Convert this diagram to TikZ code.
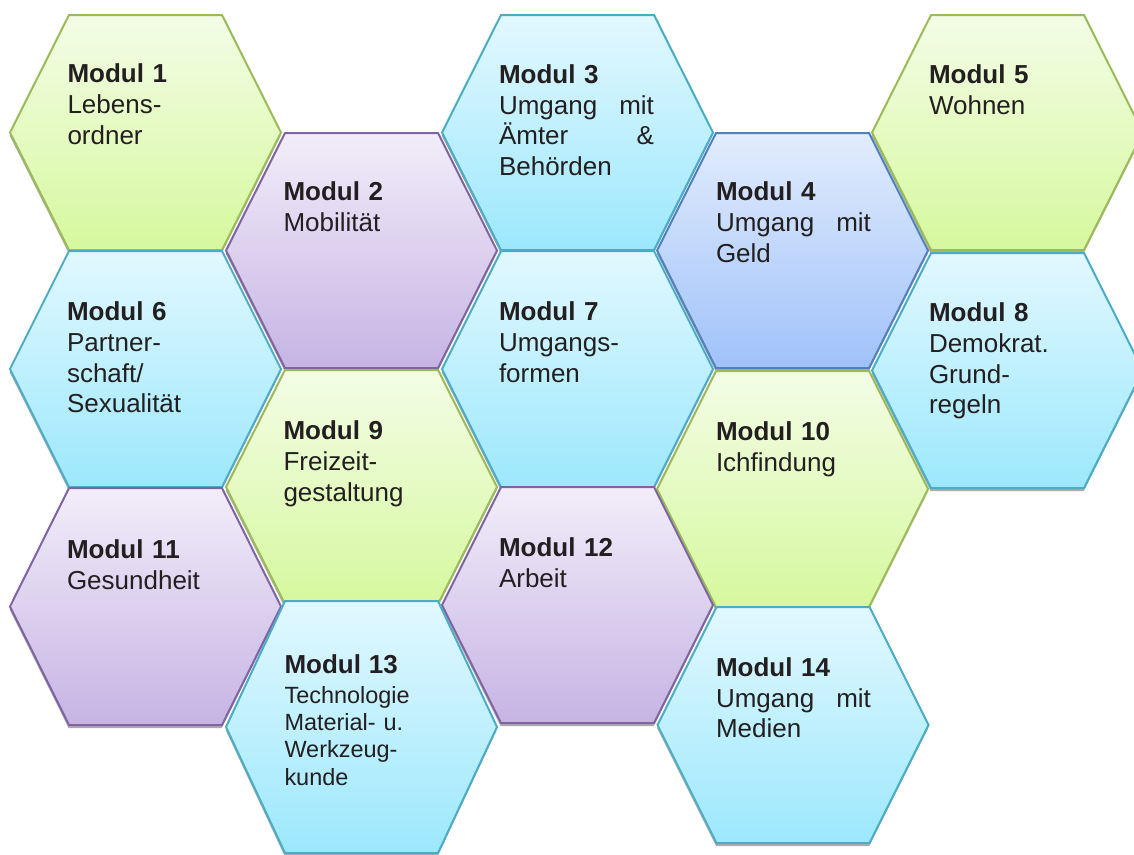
\documentclass[tikz,border=0pt]{standalone}
\usepackage{fontspec}
\setmainfont{Liberation Sans}
\definecolor{gTop}{RGB}{243,253,230}
\definecolor{gBot}{RGB}{214,248,158}
\definecolor{gLine}{RGB}{155,187,89}
\definecolor{pTop}{RGB}{242,237,249}
\definecolor{pBot}{RGB}{198,180,228}
\definecolor{pLine}{RGB}{128,100,162}
\definecolor{cTop}{RGB}{226,248,255}
\definecolor{cBot}{RGB}{156,232,252}
\definecolor{cLine}{RGB}{75,172,198}
\definecolor{bTop}{RGB}{226,236,252}
\definecolor{bBot}{RGB}{160,194,250}
\definecolor{bLine}{RGB}{79,129,189}
\definecolor{txt}{RGB}{35,31,32}
\tikzset{
  hexbase/.style={line width=1.5pt,line join=miter},
  greenhex/.style={top color=gTop,bottom color=gBot,draw=gLine},
  purplehex/.style={top color=pTop,bottom color=pBot,draw=pLine},
  cyanhex/.style={top color=cTop,bottom color=cBot,draw=cLine},
  bluehex/.style={top color=bTop,bottom color=bBot,draw=bLine},
  hexshadow/.style={fill=black!33},
  modtext/.style={anchor=north west,inner sep=0pt,outer sep=0pt,text width=116.25pt,align=left,text=txt,
    font=\fontsize{19.5pt}{23pt}\selectfont},
  smalltext/.style={font=\fontsize{17.6pt}{20.5pt}\selectfont}
}
\newcommand\hexcell[4]{\path[hexbase,#4,shift={(#1,#2)}] (-135.5,0) -- (-76.5,-#3) -- (76.5,-#3) -- (135.5,0) -- (76.5,#3) -- (-76.5,#3) -- cycle;}
\newcommand\hexshade[3]{\fill[hexshadow,shift={(#1-0.3,#2+3.2)}] (-135.5,0) -- (-76.5,-#3) -- (76.5,-#3) -- (135.5,0) -- (76.5,#3) -- (-76.5,#3) -- cycle;}
\newcommand\just[2]{\makebox[116.25pt][s]{#1\hfill #2}}
\begin{document}
\begin{tikzpicture}[x=0.75pt,y=-0.75pt]
\useasboundingbox (0,0) rectangle (1134,854);
\clip (0,0) rectangle (1134,854);
\fill[white] (0,0) rectangle (1134,854);
% shadows
\foreach \cx/\cy/\hh in {145.5/132.5/117.5,361.5/250.5/117.5,577.5/132.5/117.5,792.5/250.5/117.5,1007.5/132.5/117.5,
  145.5/369/118,577.5/369/118,1007.5/370.5/117.5,361.5/487/117,792.5/489/118,145.5/606.5/118.5,577.5/605/118,361.5/727/126,793/725/118}
  {\hexshade{\cx}{\cy}{\hh}}
% hexagons
\hexcell{145.5}{132.5}{117.5}{greenhex}
\hexcell{361.5}{250.5}{117.5}{purplehex}
\hexcell{577.5}{132.5}{117.5}{cyanhex}
\hexcell{792.5}{250.5}{117.5}{bluehex}
\hexcell{1007.5}{132.5}{117.5}{greenhex}
\hexcell{145.5}{369}{118}{cyanhex}
\hexcell{577.5}{369}{118}{cyanhex}
\hexcell{1007.5}{370.5}{117.5}{cyanhex}
\hexcell{361.5}{487}{117}{greenhex}
\hexcell{792.5}{489}{118}{greenhex}
\hexcell{145.5}{606.5}{118.5}{purplehex}
\hexcell{577.5}{605}{118}{purplehex}
\hexcell{361.5}{727}{126}{cyanhex}
\hexcell{793}{725}{118}{cyanhex}
% texts
\node[modtext] (m1) at (67.5,64) {\textbf{Modul 1}\\Lebens-\\ordner};
\node[modtext] (m2) at (283.5,182) {\textbf{Modul 2}\\Mobilität};
\node[modtext] (m3) at (499,64.5) {\textbf{Modul 3}\\\just{Umgang}{mit}\\\just{Ämter}{\&}\\Behörden};
\node[modtext] (m4) at (716,182) {\textbf{Modul 4}\\\just{Umgang}{mit}\\Geld};
\node[modtext] (m5) at (929,64.5) {\textbf{Modul 5}\\Wohnen};
\node[modtext] (m6) at (67,302) {\textbf{Modul 6}\\Partner-\\schaft/\\Sexualität};
\node[modtext] (m7) at (499,302) {\textbf{Modul 7}\\Umgangs-\\formen};
\node[modtext] (m8) at (929,303) {\textbf{Modul 8}\\Demokrat.\\Grund-\\regeln};
\node[modtext] (m9) at (283.5,421) {\textbf{Modul 9}\\Freizeit-\\gestaltung};
\node[modtext] (m10) at (716,422) {\textbf{Modul 10}\\Ichfindung};
\node[modtext] (m11) at (67,539.5) {\textbf{Modul 11}\\Gesundheit};
\node[modtext] (m12) at (499,538) {\textbf{Modul 12}\\Arbeit};
\node[modtext,smalltext] (m13) at (284.5,655) {{\fontsize{19.5pt}{20.5pt}\selectfont\bfseries Modul 13}\\[1.5pt]Technologie\\Material- u.\\Werkzeug-\\kunde};
\node[modtext] (m14) at (716,657.5) {\textbf{Modul 14}\\\just{Umgang}{mit}\\Medien};
\end{tikzpicture}
\end{document}
